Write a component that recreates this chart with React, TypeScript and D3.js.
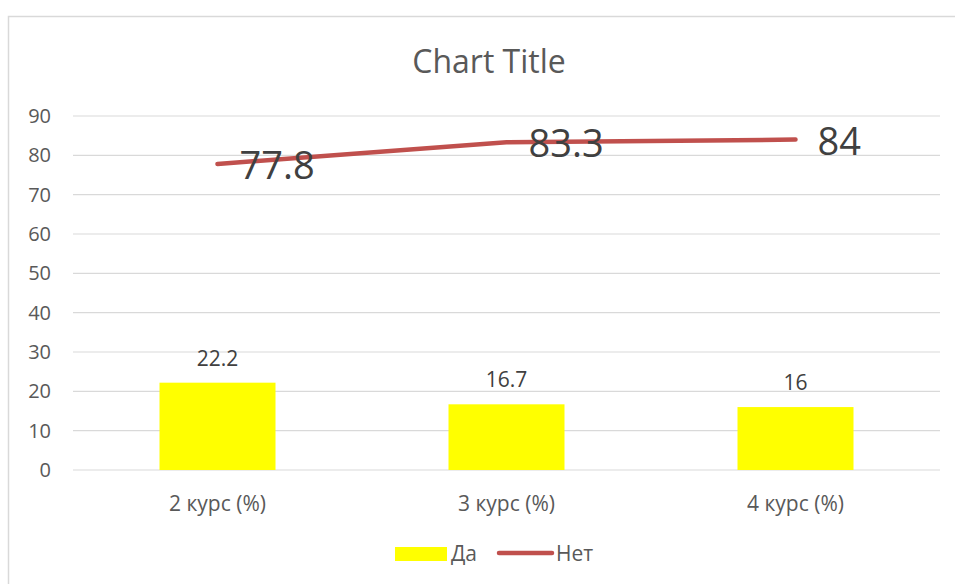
import React, { useEffect, useRef } from 'react'
import * as d3 from 'd3'

const categories = ['2 курс (%)', '3 курс (%)', '4 курс (%)']
const daValues = [22.2, 16.7, 16]
const netValues = [77.8, 83.3, 84]
const yTicks = [0, 10, 20, 30, 40, 50, 60, 70, 80, 90]

const W = 955, H = 584
const font = '"Open Sans", "DejaVu Sans", sans-serif'
const textColor = '#595959'

export default function App() {
    const ref = useRef<SVGSVGElement>(null)

    useEffect(() => {
        const svg = d3.select(ref.current)
        svg.selectAll('*').remove()

        const x = d3.scaleBand().domain(categories).range([73, 940])
        const y = d3.scaleLinear().domain([0, 90]).range([470, 116])

        svg.append('rect')
            .attr('x', 8.5).attr('y', 16.5)
            .attr('width', W + 10).attr('height', H + 10)
            .attr('fill', '#fff').attr('stroke', '#d9d9d9').attr('stroke-width', 1.5)

        svg.append('text')
            .attr('x', 489).attr('y', 73)
            .attr('text-anchor', 'middle')
            .style('font-family', font).style('font-size', '32px')
            .attr('fill', textColor)
            .text('Chart Title')

        // grid + y labels
        svg.append('g')
            .selectAll('line')
            .data(yTicks)
            .join('line')
            .attr('x1', 73).attr('x2', 940)
            .attr('y1', d => y(d)).attr('y2', d => y(d))
            .attr('stroke', '#d9d9d9').attr('stroke-width', 1.2)

        svg.append('g')
            .selectAll('text')
            .data(yTicks)
            .join('text')
            .attr('x', 51).attr('y', d => y(d) + 7)
            .attr('text-anchor', 'end')
            .style('font-family', font).style('font-size', '20px')
            .attr('fill', textColor)
            .text(d => d)

        svg.append('g')
            .selectAll('text')
            .data(categories)
            .join('text')
            .attr('x', d => x(d)! + x.bandwidth() / 2).attr('y', 511)
            .attr('text-anchor', 'middle')
            .style('font-family', font).style('font-size', '21px')
            .attr('fill', textColor)
            .text(d => d)

        const barW = 116
        svg.append('g')
            .selectAll('rect')
            .data(daValues)
            .join('rect')
            .attr('x', (d, i) => x(categories[i])! + x.bandwidth() / 2 - barW / 2)
            .attr('y', d => y(d))
            .attr('width', barW)
            .attr('height', d => y(0) - y(d))
            .attr('fill', '#ffff00')

        svg.append('g')
            .selectAll('text')
            .data(daValues)
            .join('text')
            .attr('x', (d, i) => x(categories[i])! + x.bandwidth() / 2)
            .attr('y', d => y(d) - 17)
            .attr('text-anchor', 'middle')
            .style('font-family', font).style('font-size', '21px')
            .attr('fill', '#404040')
            .text(d => d)

        const line = d3.line<number>()
            .x((d, i) => x(categories[i])! + x.bandwidth() / 2)
            .y(d => y(d))

        svg.append('path')
            .datum(netValues)
            .attr('d', line)
            .attr('fill', 'none')
            .attr('stroke', '#c0504d')
            .attr('stroke-width', 4.5)
            .attr('stroke-linecap', 'round')

        svg.append('g')
            .selectAll('text')
            .data(netValues)
            .join('text')
            .attr('x', (d, i) => x(categories[i])! + x.bandwidth() / 2 + 22)
            .attr('y', d => y(d) + 15)
            .attr('text-anchor', 'start')
            .style('font-family', font).style('font-size', '38px')
            .attr('fill', '#404040')
            .text(d => d)

        // legend
        const lg = svg.append('g')
        lg.append('rect').attr('x', 395).attr('y', 547).attr('width', 52).attr('height', 14).attr('fill', '#ffff00')
        lg.append('text').attr('x', 451).attr('y', 561)
            .style('font-family', font).style('font-size', '21px').attr('fill', textColor).text('Да')
        lg.append('line').attr('x1', 499).attr('x2', 552).attr('y1', 553).attr('y2', 553)
            .attr('stroke', '#c0504d').attr('stroke-width', 4.5).attr('stroke-linecap', 'round')
        lg.append('text').attr('x', 556).attr('y', 561)
            .style('font-family', font).style('font-size', '21px').attr('fill', textColor).text('Нет')
    }, [])

    return (
        <svg ref={ref} width={W} height={H} style={{ position: 'absolute', left: 0, top: 0, display: 'block' }} />
    )
}
